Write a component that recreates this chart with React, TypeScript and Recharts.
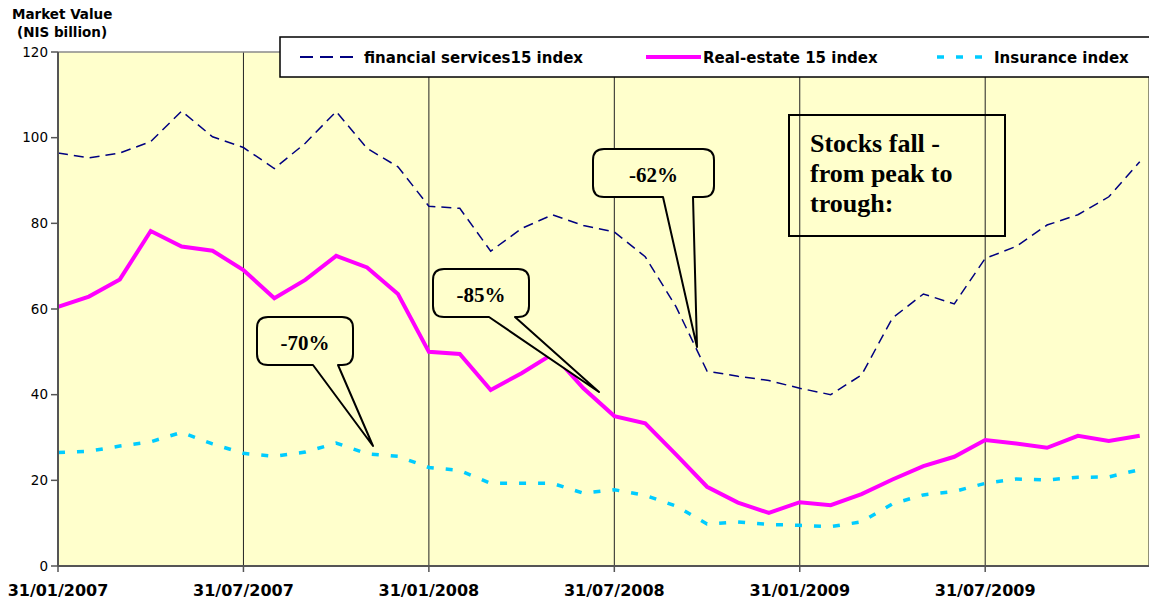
import React from 'react';
import { LineChart, Line, XAxis, YAxis, CartesianGrid, ReferenceLine } from 'recharts';

const months = [
    '01/2007', '02/2007', '03/2007', '04/2007', '05/2007', '06/2007',
    '07/2007', '08/2007', '09/2007', '10/2007', '11/2007', '12/2007',
    '01/2008', '02/2008', '03/2008', '04/2008', '05/2008', '06/2008',
    '07/2008', '08/2008', '09/2008', '10/2008', '11/2008', '12/2008',
    '01/2009', '02/2009', '03/2009', '04/2009', '05/2009', '06/2009',
    '07/2009', '08/2009', '09/2009', '10/2009', '11/2009', '12/2009',
];

const financial = [
    96.4, 95.3, 96.4, 99.1, 106.2, 100.2, 97.7, 92.8, 98.7, 106.1, 97.5, 93.2,
    84.0, 83.5, 73.5, 78.8, 82.0, 79.5, 78.0, 72.2, 60.5, 45.5, 44.3, 43.3,
    41.5, 40.0, 44.6, 57.9, 63.5, 61.2, 71.8, 74.6, 79.6, 82.0, 86.2, 94.4,
];

const realEstate = [
    60.5, 62.9, 66.9, 78.2, 74.6, 73.6, 69.1, 62.5, 66.8, 72.4, 69.7, 63.5,
    50.0, 49.5, 41.1, 45.0, 49.5, 41.5, 35.0, 33.3, 26.0, 18.5, 14.8, 12.4,
    14.9, 14.2, 16.8, 20.2, 23.3, 25.5, 29.4, 28.6, 27.6, 30.4, 29.2, 30.4,
];

const insurance = [
    26.5, 26.8, 28.0, 29.0, 31.2, 28.5, 26.3, 25.6, 26.6, 28.7, 26.2, 25.6,
    23.0, 22.3, 19.3, 19.3, 19.3, 17.0, 17.8, 16.5, 14.0, 9.8, 10.3, 9.7,
    9.5, 9.2, 10.3, 14.5, 16.6, 17.4, 19.3, 20.3, 20.1, 20.7, 20.8, 22.5,
];

const xTicks = [0, 6, 12, 18, 24, 30];
const xTickLabels = ['31/01/2007', '31/07/2007', '31/01/2008', '31/07/2008', '31/01/2009', '31/07/2009'];
const yTicks = [0, 20, 40, 60, 80, 100, 120];

const data = months.map((m, i) => ({
    i,
    month: m,
    financial: financial[i],
    realEstate: realEstate[i],
    insurance: insurance[i],
}));

const SANS = 'DejaVu Sans';
const SERIF = '"Liberation Serif", "Times New Roman", serif';

// rounded box with a wedge pointing down to (tx, ty)
function calloutPath(l: number, t: number, r: number, b: number, bl: number, br: number, tx: number, ty: number, rad = 11) {
    return [
        `M${l + rad},${t}`,
        `H${r - rad}`,
        `Q${r},${t} ${r},${t + rad}`,
        `V${b - rad}`,
        `Q${r},${b} ${r - rad},${b}`,
        `H${br}`,
        `L${tx},${ty}`,
        `L${bl},${b}`,
        `H${l + rad}`,
        `Q${l},${b} ${l},${b - rad}`,
        `V${t + rad}`,
        `Q${l},${t} ${l + rad},${t}`,
        'Z',
    ].join(' ');
}

const callouts = [
    { text: '-70%', box: [257, 317, 353, 365], base: [313, 338], tip: [373, 446] },
    { text: '-85%', box: [433, 269, 529, 317], base: [489, 515], tip: [599, 392] },
    { text: '-62%', box: [593, 149, 714, 197], base: [663, 693], tip: [697, 347] },
];

const Overlay: React.FC = () => (
    <svg
        width={1149}
        height={601}
        style={{ position: 'absolute', left: 0, top: 0, pointerEvents: 'none' }}
    >
        {/* axis title */}
        <text x={12} y={19} fontFamily={SANS} fontWeight="bold" fontSize={13.5} fill="#000">Market Value</text>
        <text x={17} y={37} fontFamily={SANS} fontWeight="bold" fontSize={13.5} fill="#000">(NIS billion)</text>

        {/* legend */}
        <rect x={280} y={37} width={880} height={40} fill="#fff" stroke="#000" strokeWidth={1.5} />
        <line x1={300} y1={57} x2={357} y2={57} stroke="#000080" strokeWidth={2} strokeDasharray="13 7" />
        <text x={364} y={62.5} fontFamily={SANS} fontWeight="bold" fontSize={15} fill="#000">financial services15 index</text>
        <line x1={646} y1={57} x2={701} y2={57} stroke="#FF00FF" strokeWidth={4} />
        <text x={703} y={62.5} fontFamily={SANS} fontWeight="bold" fontSize={15} fill="#000">Real-estate 15 index</text>
        <line x1={937} y1={57} x2={984} y2={57} stroke="#00CCFF" strokeWidth={3.5} strokeDasharray="7 12" />
        <text x={994} y={62.5} fontFamily={SANS} fontWeight="bold" fontSize={15} fill="#000">Insurance index</text>

        {/* callouts */}
        {callouts.map((c) => {
            const [l, t, r, b] = c.box;
            return (
                <g key={c.text}>
                    <path
                        d={calloutPath(l, t, r, b, c.base[0], c.base[1], c.tip[0], c.tip[1])}
                        fill="#FFFFCC"
                        stroke="#000"
                        strokeWidth={2}
                        strokeLinejoin="round"
                    />
                    <text
                        x={(l + r) / 2}
                        y={(t + b) / 2 + 8.5}
                        textAnchor="middle"
                        fontFamily={SERIF}
                        fontWeight="bold"
                        fontSize={21}
                        fill="#000"
                    >
                        {c.text}
                    </text>
                </g>
            );
        })}

        {/* note box */}
        <rect x={789} y={115} width={216} height={121} fill="none" stroke="#000" strokeWidth={2} />
        <g fontFamily={SERIF} fontWeight="bold" fontSize={26} fill="#000">
            <text x={810} y={151.5}>Stocks fall -</text>
            <text x={810} y={181.5}>from peak to</text>
            <text x={810} y={211.5}>trough:</text>
        </g>
    </svg>
);

export default function App() {
    return (
        <div style={{ position: 'relative', width: 1149, height: 601, overflow: 'hidden', background: '#fff' }}>
            <style>{'body{margin:0}'}</style>
            <LineChart
                width={1149}
                height={601}
                data={data}
                margin={{ top: 52, right: 0, bottom: 0, left: 0 }}
            >
                <CartesianGrid
                    horizontal={false}
                    vertical
                    stroke="#222"
                    strokeWidth={1}
                    fill="#FFFFCC"
                    fillOpacity={1}
                />
                <ReferenceLine y={120} stroke="#8a8a8a" strokeWidth={1.5} />
                <XAxis
                    dataKey="i"
                    type="number"
                    domain={[0, 35.3]}
                    allowDataOverflow
                    ticks={xTicks}
                    interval={0}
                    tickFormatter={(v: number) => xTickLabels[xTicks.indexOf(v)] ?? ''}
                    height={35}
                    tickSize={6}
                    tickMargin={13}
                    axisLine={{ stroke: '#555', strokeWidth: 2 }}
                    tickLine={{ stroke: '#555', strokeWidth: 1.5 }}
                    tick={{ fontFamily: SANS, fontWeight: 'bold', fontSize: 16, fill: '#000' }}
                />
                <YAxis
                    width={58}
                    domain={[0, 120]}
                    ticks={yTicks}
                    interval={0}
                    tickSize={7}
                    tickMargin={3}
                    axisLine={{ stroke: '#555', strokeWidth: 2 }}
                    tickLine={{ stroke: '#555', strokeWidth: 1.5 }}
                    tick={{ fontFamily: SANS, fontSize: 13.5, fill: '#000' }}
                />
                <Line
                    type="linear"
                    dataKey="insurance"
                    stroke="#00CCFF"
                    strokeWidth={3.5}
                    strokeDasharray="7 12"
                    dot={false}
                    isAnimationActive={false}
                />
                <Line
                    type="linear"
                    dataKey="realEstate"
                    stroke="#FF00FF"
                    strokeWidth={4}
                    dot={false}
                    isAnimationActive={false}
                />
                <Line
                    type="linear"
                    dataKey="financial"
                    stroke="#000080"
                    strokeWidth={1.5}
                    strokeDasharray="10 6"
                    dot={false}
                    isAnimationActive={false}
                />
            </LineChart>
            <Overlay />
        </div>
    );
}
